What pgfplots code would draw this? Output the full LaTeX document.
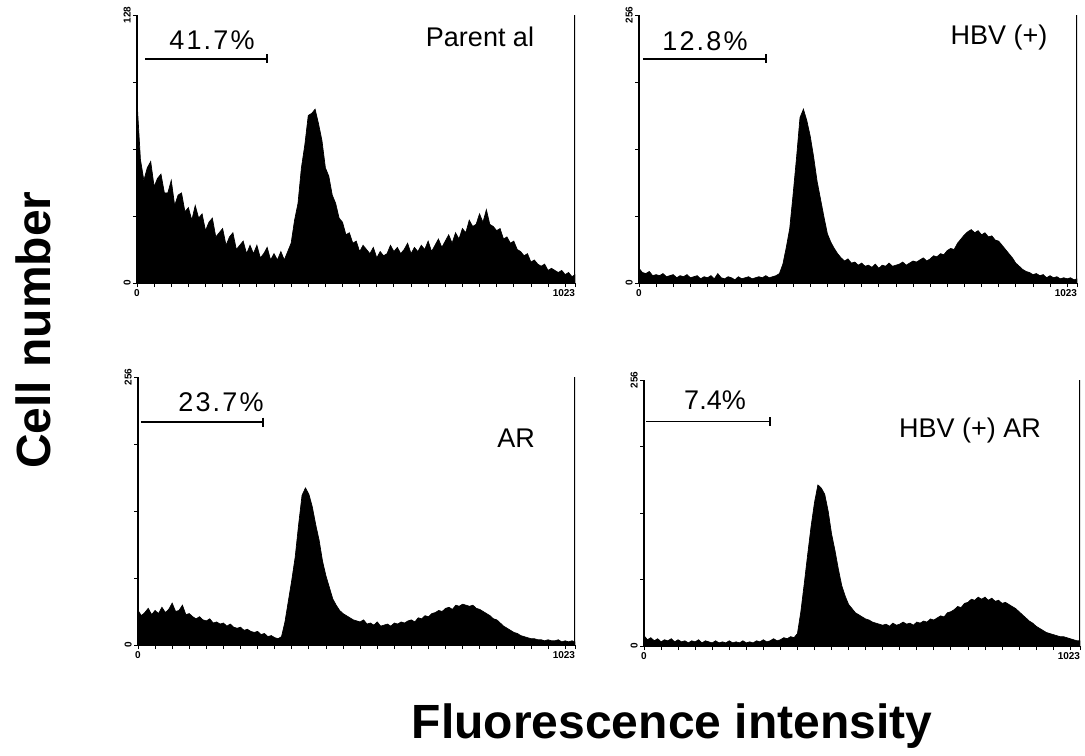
\documentclass[border=0pt]{standalone}
\usepackage{fontspec}
\setmainfont{Liberation Sans}
\usepackage{pgfplots}
\pgfplotsset{compat=1.18}
\usetikzlibrary{arrows.meta}

\pgfplotsset{
  facs/.style={
    scale only axis,
    xmin=0, xmax=1023, ymin=0,
    axis lines*=left,
    axis line style={-, line width=0.8pt},
    tick align=outside,
    major tick length=2pt,
    tick style={line width=0.4pt, black},
    xtick={40,80,...,1000}, xticklabels={},
    extra x ticks={0,1023}, extra x tick labels={0,\makebox[0pt][r]{1023}\hspace{1.5pt}},
    yticklabels={},
    ticklabel style={font=\fontsize{5}{6}\selectfont\bfseries, inner sep=1pt},
    /pgf/number format/assume math mode=true,
    extra y tick style={yticklabel style={rotate=90, anchor=south}},
    clip=true,
  },
  hist/.style={fill=black, draw=black, line width=0.35pt},
}
\tikzset{gate/.style={line width=0.8pt, -{Bar[width=4.5pt]}}}

\newcommand{\lab}{\fontsize{13.5}{14}\selectfont}
\newcommand{\pct}{\fontsize{13.5}{14}\selectfont\addfontfeatures{LetterSpace=8}}

\begin{document}
\begin{tikzpicture}
\path[use as bounding box] (0,0) rectangle (542.5pt,-377.5pt);

% Parental
\begin{axis}[facs, at={(68.5pt,-141.5pt)}, anchor=south west,
  width=219pt, height=134pt, ymax=128,
  ytick={32,64,96}, extra y ticks={0,128}, extra y tick labels={0,128}]
\addplot[hist] coordinates {
(0,87)(8,59)(16,49)(24,55)(32,58)(40,46)(48,50)(56,52)(64,43)(72,43)(80,49)(88,37)(96,42)(104,43)(112,34)(120,36)
(128,30)(136,37)(144,31)(152,33)(160,25)(168,29)(176,31)(184,22)(192,24)(200,26)(208,18)(216,22)(224,24)(232,16)(240,18)(248,20)
(256,14)(264,18)(272,14)(280,18)(288,12)(296,14)(304,17)(312,11)(320,14)(328,11)(336,15)(344,11)(352,15)(360,19)(368,30)(376,38)
(384,55)(392,66)(400,80)(408,81)(416,83)(424,76)(432,68)(440,55)(448,51)(456,42)(464,38)(472,31)(480,29)(488,23)(496,24)(504,19)
(512,20)(520,15)(528,18)(536,16)(544,14)(552,17)(560,12)(568,15)(576,13)(584,14)(592,18)(600,15)(608,17)(616,14)(624,16)(632,19)
(640,14)(648,17)(656,15)(664,18)(672,16)(680,20)(688,15)(696,18)(704,21)(712,17)(720,20)(728,23)(736,19)(744,24)(752,21)(760,26)
(768,24)(776,30)(784,27)(792,28)(800,33)(808,29)(816,35)(824,28)(832,27)(840,25)(848,26)(856,21)(864,22)(872,19)(880,20)(888,16)
(896,15)(904,13)(912,14)(920,10)(928,11)(936,9)(944,8)(952,9)(960,6)(968,7)(976,6)(984,5)(992,6)(1000,4)(1008,5)(1016,3)(1023,4)
} \closedcycle;
\draw[line width=0.6pt] (rel axis cs:1,0) -- (rel axis cs:1,1);
\draw[gate] (axis cs:19,107) -- (axis cs:306,107);
\end{axis}

% HBV (+)
\begin{axis}[facs, at={(319.5pt,-141.5pt)}, anchor=south west,
  width=219pt, height=134pt, ymax=256,
  ytick={64,128,192}, extra y ticks={0,256}, extra y tick labels={0,256}]
\addplot[hist] coordinates {
(0,14)(8,10)(16,9)(24,11)(32,7)(40,8)(48,7)(56,9)(64,6)(72,7)(80,8)(88,5)(96,7)(104,6)(112,8)(120,5)
(128,6)(136,7)(144,4)(152,6)(160,5)(168,7)(176,4)(184,9)(192,5)(200,4)(208,6)(216,5)(224,3)(232,6)(240,4)(248,5)
(256,6)(264,4)(272,5)(280,6)(288,5)(296,7)(304,5)(312,6)(320,7)(328,9)(336,18)(344,34)(352,52)(360,85)(368,120)(376,158)
(384,166)(392,155)(400,140)(408,120)(416,97)(424,80)(432,63)(440,47)(448,39)(456,33)(464,28)(472,24)(480,21)(488,23)(496,19)(504,20)
(512,17)(520,19)(528,16)(536,17)(544,15)(552,18)(560,14)(568,17)(576,16)(584,19)(592,16)(600,17)(608,18)(616,20)(624,17)(632,19)
(640,21)(648,20)(656,22)(664,24)(672,21)(680,23)(688,26)(696,25)(704,28)(712,27)(720,31)(728,33)(736,32)(744,38)(752,42)(760,46)
(768,49)(776,51)(784,48)(792,50)(800,46)(808,48)(816,44)(824,45)(832,41)(840,40)(848,36)(856,32)(864,28)(872,24)(880,19)(888,16)
(896,13)(904,11)(912,10)(920,8)(928,9)(936,7)(944,8)(952,5)(960,7)(968,5)(976,6)(984,4)(992,5)(1000,4)(1008,5)(1016,3)(1023,4)
} \closedcycle;
\draw[line width=0.6pt] (rel axis cs:1,0) -- (rel axis cs:1,1);
\draw[gate] (axis cs:9,214) -- (axis cs:299,214);
\end{axis}

% AR
\begin{axis}[facs, at={(69pt,-322.5pt)}, anchor=south west,
  width=218.5pt, height=134pt, ymax=256,
  ytick={64,128,192}, extra y ticks={0,256}, extra y tick labels={0,256}]
\addplot[hist] coordinates {
(0,33)(8,28)(16,31)(24,35)(32,29)(40,33)(48,30)(56,36)(64,31)(72,34)(80,40)(88,32)(96,33)(104,38)(112,29)(120,30)
(128,27)(136,25)(144,27)(152,24)(160,23)(168,25)(176,21)(184,22)(192,20)(200,21)(208,18)(216,20)(224,17)(232,16)(240,17)(248,14)
(256,15)(264,13)(272,12)(280,13)(288,10)(296,11)(304,8)(312,9)(320,7)(328,6)(336,8)(344,22)(352,42)(360,62)(368,84)(376,115)
(384,143)(392,150)(400,144)(408,132)(416,115)(424,100)(432,80)(440,66)(448,55)(456,44)(464,38)(472,33)(480,30)(488,28)(496,26)(504,24)
(512,23)(520,22)(528,24)(536,20)(544,21)(552,19)(560,22)(568,18)(576,19)(584,20)(592,18)(600,21)(608,20)(616,22)(624,21)(632,23)
(640,24)(648,22)(656,26)(664,25)(672,28)(680,27)(688,30)(696,31)(704,33)(712,32)(720,35)(728,36)(736,34)(744,38)(752,37)(760,39)
(768,38)(776,37)(784,38)(792,35)(800,34)(808,32)(816,30)(824,28)(832,25)(840,24)(848,21)(856,18)(864,16)(872,14)(880,12)(888,11)
(896,9)(904,8)(912,7)(920,6)(928,6)(936,5)(944,5)(952,4)(960,5)(968,4)(976,4)(984,5)(992,3)(1000,4)(1008,3)(1016,4)(1023,3)
} \closedcycle;
\draw[line width=0.6pt] (rel axis cs:1,0) -- (rel axis cs:1,1);
\draw[gate] (axis cs:7,213) -- (axis cs:295,213);
\end{axis}

% HBV (+) AR
\begin{axis}[facs, at={(322pt,-323pt)}, anchor=south west,
  width=218pt, height=133pt, ymax=256,
  ytick={64,128,192}, extra y ticks={0,256}, extra y tick labels={0,256}]
\addplot[hist] coordinates {
(0,10)(8,6)(16,8)(24,5)(32,7)(40,4)(48,6)(56,5)(64,7)(72,4)(80,6)(88,4)(96,5)(104,3)(112,5)(120,4)
(128,6)(136,3)(144,5)(152,4)(160,3)(168,5)(176,3)(184,4)(192,3)(200,5)(208,3)(216,4)(224,3)(232,5)(240,3)(248,4)
(256,3)(264,5)(272,4)(280,6)(288,4)(296,5)(304,7)(312,5)(320,6)(328,8)(336,7)(344,9)(352,8)(360,12)(368,33)(376,60)
(384,88)(392,115)(400,138)(408,155)(416,152)(424,146)(432,130)(440,108)(448,92)(456,74)(464,58)(472,48)(480,40)(488,36)(496,32)(504,30)
(512,28)(520,26)(528,25)(536,23)(544,22)(552,21)(560,20)(568,21)(576,19)(584,22)(592,20)(600,21)(608,23)(616,21)(624,22)(632,20)
(640,23)(648,22)(656,24)(664,23)(672,26)(680,25)(688,27)(696,29)(704,28)(712,32)(720,33)(728,35)(736,38)(744,37)(752,41)(760,42)
(768,45)(776,44)(784,47)(792,45)(800,47)(808,44)(816,46)(824,43)(832,44)(840,41)(848,42)(856,40)(864,38)(872,36)(880,33)(888,30)
(896,27)(904,24)(912,22)(920,19)(928,17)(936,15)(944,13)(952,12)(960,11)(968,10)(976,9)(984,9)(992,8)(1000,7)(1008,6)(1016,5)(1023,5)
} \closedcycle;
\draw[line width=0.6pt] (rel axis cs:1,0) -- (rel axis cs:1,1);
\draw[gate] (axis cs:5,216) -- (axis cs:298,216);
\end{axis}

% panel texts
\node[anchor=base, font=\pct] at (106pt,-24.5pt) {41.7\%};
\node[anchor=base, font=\lab] at (240pt,-23pt) {Parent al};
\node[anchor=base, font=\pct] at (352.5pt,-25pt) {12.8\%};
\node[anchor=base, font=\lab] at (499.5pt,-22pt) {HBV (+)};
\node[anchor=base, font=\pct] at (110.5pt,-205.5pt) {23.7\%};
\node[anchor=base, font=\lab] at (258pt,-223.5pt) {AR};
\node[anchor=base, font=\lab] at (357.5pt,-204.5pt) {7.4\%};
\node[anchor=base, font=\lab] at (485pt,-218.5pt) {HBV (+) AR};

% axis titles
\node[rotate=90, font=\fontsize{24}{26}\selectfont\bfseries] at (16.5pt,-165pt) {Cell number};
\node[anchor=base, font=\fontsize{24}{26}\selectfont\bfseries] at (336pt,-369pt) {Fluorescence intensity};
\end{tikzpicture}
\end{document}
